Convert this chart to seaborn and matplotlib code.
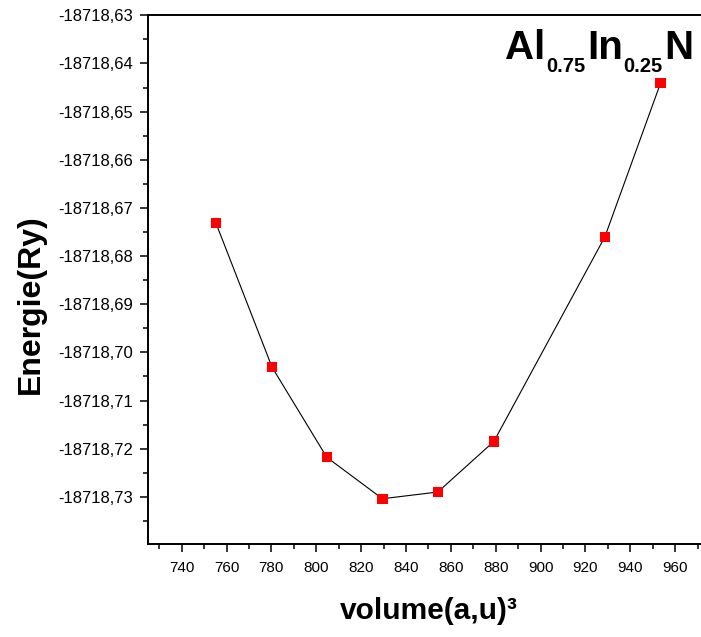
import matplotlib
matplotlib.use('Agg')
import matplotlib.pyplot as plt
import seaborn as sns
import pandas as pd
from matplotlib.ticker import MultipleLocator, FuncFormatter, FixedLocator

# ---- data ----
volume = [755.3, 780.3, 804.7, 829.5, 854.2, 879.2, 928.7, 953.5]
energy = [-18718.6732, -18718.7031, -18718.7218, -18718.7304,
          -18718.7290, -18718.7185, -18718.6760, -18718.6441]
x_ticks = [740, 760, 780, 800, 820, 840, 860, 880, 900, 920, 940, 960]
y_ticks = [-18718.73, -18718.72, -18718.71, -18718.70, -18718.69, -18718.68,
           -18718.67, -18718.66, -18718.65, -18718.64, -18718.63]
x_label = "volume(a,u)\u00b3"
y_label = "Energie(Ry)"
title_parts = [("Al", False), ("0.75", True), ("In", False), ("0.25", True), ("N", False)]

sns.set_style("ticks")
plt.rcParams['font.family'] = ['Liberation Sans', 'DejaVu Sans']
for k in ["text.color", "axes.labelcolor", "xtick.color", "ytick.color", "axes.edgecolor"]:
    plt.rcParams[k] = "black"

W, H = 701, 637
fig = plt.figure(figsize=(W / 100, H / 100), dpi=100)
left_px, right_px, top_px, bot_px = 148.3, 702.0, 15.3, 544.0
ax = fig.add_axes([left_px / W, 1 - bot_px / H, (right_px - left_px) / W, (bot_px - top_px) / H])

df = pd.DataFrame({"volume": volume, "energy": energy})
sns.lineplot(data=df, x="volume", y="energy", sort=False, estimator=None,
             color="black", linewidth=0.8, ax=ax, zorder=2)
sns.scatterplot(data=df, x="volume", y="energy", marker="s", color="#ff0000",
                s=55, edgecolor="none", linewidth=0, ax=ax, zorder=3)

ax.set_xlim(725.1, 972.0)
ax.set_ylim(-18718.7398, -18718.63)

ax.xaxis.set_major_locator(FixedLocator(x_ticks))
ax.xaxis.set_minor_locator(MultipleLocator(10))
ax.yaxis.set_major_locator(FixedLocator(y_ticks))
ax.yaxis.set_minor_locator(MultipleLocator(0.005))
ax.yaxis.set_major_formatter(FuncFormatter(lambda v, p: f"{v:.2f}".replace('.', ',')))
ax.xaxis.set_major_formatter(FuncFormatter(lambda v, p: f"{v:.0f}"))

for s in ["left", "bottom", "top"]:
    ax.spines[s].set_linewidth(1.4)
    ax.spines[s].set_color("black")
ax.spines["right"].set_visible(False)

ax.tick_params(axis="both", which="major", direction="out", length=6, width=1.1, color="black")
ax.tick_params(axis="both", which="minor", direction="out", length=3.6, width=1.1, color="black")
ax.tick_params(axis="y", which="major", labelsize=12, pad=5)
ax.tick_params(axis="x", which="major", labelsize=11, pad=6)
ax.tick_params(top=False, right=False, which="both")

ax.set_xlabel(x_label, fontsize=21.5, fontweight="bold")
ax.set_ylabel(y_label, fontsize=23, fontweight="bold")
aw = right_px - left_px
ah = bot_px - top_px
ax.xaxis.set_label_coords((429 - left_px) / aw, (bot_px - 597) / ah)
ax.yaxis.set_label_coords((46 - left_px) / aw, (bot_px - 304) / ah)

# title: Al0.75In0.25N with subscripts, placed piece by piece, right end at 693 px
fig.canvas.draw()
renderer = fig.canvas.get_renderer()
texts = []
for txt, sub in title_parts:
    size = 14.5 if sub else 29
    base = 72.0 if sub else 59.0
    t = fig.text(0, 1 - base / H, txt, fontsize=size, fontweight="bold",
                 ha="left", va="baseline")
    texts.append(t)
widths = [t.get_window_extent(renderer).width for t in texts]
total = sum(widths) + (len(widths) - 1) * 1.0
x = 693.0 - total
for t, w in zip(texts, widths):
    t.set_x(x / W)
    x += w + 1.0

fig.savefig("out.png", dpi=100)
